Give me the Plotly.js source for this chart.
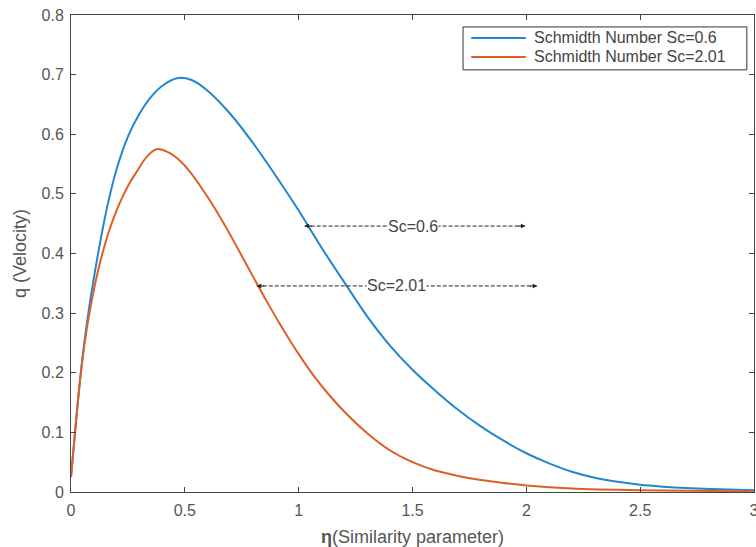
<!DOCTYPE html>
<html>
<head>
<meta charset="utf-8">
<script src="https://cdn.plot.ly/plotly-3.0.1.min.js"></script>
<style>html,body{margin:0;padding:0;background:#fff;}#chart{width:756px;height:547px;}</style>
</head>
<body>
<div id="chart"></div>
<script>
// Series: Schmidth Number Sc=0.6
const etaSc06 = [0, 0.02, 0.04, 0.06, 0.08, 0.1, 0.12, 0.14, 0.164, 0.2, 0.25, 0.3, 0.35, 0.4, 0.465, 0.53, 0.6, 0.7, 0.8, 0.9, 1.0, 1.1, 1.2, 1.3, 1.4, 1.5, 1.6, 1.7, 1.8, 1.9, 2.0, 2.1, 2.2, 2.3, 2.4, 2.5, 2.6, 2.7, 2.85, 3.0];
const qSc06   = [0.025, 0.11, 0.19, 0.255, 0.31, 0.358, 0.402, 0.443, 0.487, 0.541, 0.596, 0.634, 0.662, 0.681, 0.694, 0.691, 0.673, 0.634, 0.585, 0.53, 0.472, 0.41, 0.352, 0.295, 0.246, 0.205, 0.17, 0.138, 0.11, 0.086, 0.065, 0.048, 0.034, 0.024, 0.017, 0.012, 0.0088, 0.0065, 0.0045, 0.003];
// Series: Schmidth Number Sc=2.01
const etaSc201 = [0, 0.02, 0.04, 0.06, 0.08, 0.1, 0.12, 0.14, 0.17, 0.2, 0.23, 0.26, 0.29, 0.32, 0.35, 0.375, 0.4, 0.44, 0.48, 0.52, 0.57, 0.62, 0.67, 0.72, 0.77, 0.82, 0.87, 0.92, 0.97, 1.02, 1.07, 1.12, 1.2, 1.3, 1.4, 1.5, 1.6, 1.7, 1.8, 1.9, 2.0, 2.2, 2.5, 3.0];
const qSc201   = [0.025, 0.11, 0.188, 0.25, 0.298, 0.338, 0.373, 0.403, 0.441, 0.472, 0.498, 0.52, 0.538, 0.556, 0.569, 0.575, 0.574, 0.567, 0.555, 0.538, 0.512, 0.483, 0.451, 0.417, 0.382, 0.347, 0.313, 0.28, 0.249, 0.22, 0.193, 0.169, 0.135, 0.099, 0.07, 0.05, 0.036, 0.027, 0.02, 0.015, 0.011, 0.006, 0.003, 0.001];

const seriesNames = ['Schmidth Number Sc=0.6', 'Schmidth Number Sc=2.01'];
const xTicks = [0, 0.5, 1, 1.5, 2, 2.5, 3];
const yTicks = [0, 0.1, 0.2, 0.3, 0.4, 0.5, 0.6, 0.7, 0.8];

// Callout labels: [text, leftTipX, rightTipX, y, textX]
const callouts = [
  ['Sc=0.6', 1.026, 1.996, 0.446, 1.504],
  ['Sc=2.01', 0.816, 2.048, 0.3456, 1.428]
];

const BLUE = '#2187cf', ORANGE = '#dd5f26', AX = '#444444';
const COLORS = [BLUE, ORANGE];
const FONT = 'Liberation Sans, Arial, sans-serif';

const traces = [
  {x: etaSc06, y: qSc06, type: 'scatter', mode: 'lines', name: seriesNames[0],
   line: {color: BLUE, width: 2, shape: 'spline', smoothing: 0.8}},
  {x: etaSc201, y: qSc201, type: 'scatter', mode: 'lines', name: seriesNames[1],
   line: {color: ORANGE, width: 2, shape: 'spline', smoothing: 0.8}}
];

const shapes = [];
const annotations = [];
callouts.forEach(c => {
  const [txt, x0, x1, y, tx] = c;
  shapes.push({type: 'line', xref: 'x', yref: 'y', x0: x0, x1: x1, y0: y, y1: y,
               line: {color: '#222', width: 1, dash: '4px,2px'}});
  annotations.push({x: x0, y: y, xref: 'x', yref: 'y', ax: 9, ay: 0, text: '', showarrow: true,
                    arrowhead: 2, arrowsize: 0.9, arrowwidth: 1, arrowcolor: '#222'});
  annotations.push({x: x1, y: y, xref: 'x', yref: 'y', ax: -9, ay: 0, text: '', showarrow: true,
                    arrowhead: 2, arrowsize: 0.9, arrowwidth: 1, arrowcolor: '#222'});
  annotations.push({x: tx, y: y, xref: 'x', yref: 'y', text: txt, showarrow: false,
                    bgcolor: '#ffffff', borderpad: 0,
                    font: {family: FONT, size: 16, color: '#444'}});
});

// Legend box (MATLAB-style, drawn in paper coordinates)
const LEG = {x0: 0.574, x1: 0.9895, y0: 0.885, y1: 0.975, rows: [0.952, 0.912],
             lx0: 0.586, lx1: 0.666, tx: 0.675};
shapes.push({type: 'rect', xref: 'paper', yref: 'paper', x0: LEG.x0, x1: LEG.x1, y0: LEG.y0, y1: LEG.y1,
             line: {color: '#333', width: 1}, fillcolor: '#ffffff', layer: 'above'});
seriesNames.forEach((nm, i) => {
  shapes.push({type: 'line', xref: 'paper', yref: 'paper', x0: LEG.lx0, x1: LEG.lx1,
               y0: LEG.rows[i], y1: LEG.rows[i], line: {color: COLORS[i], width: 2}, layer: 'above'});
  annotations.push({xref: 'paper', yref: 'paper', x: LEG.tx, y: LEG.rows[i], xanchor: 'left', yanchor: 'middle',
                    text: nm, showarrow: false, font: {family: FONT, size: 16, color: '#444'}});
});

const axisCommon = {
  showgrid: false, zeroline: false, showline: true, linecolor: AX, linewidth: 1,
  mirror: 'ticks', ticks: 'inside', ticklen: 5, tickwidth: 1, tickcolor: AX,
  ticklabeloverflow: 'allow',
  tickfont: {family: FONT, size: 16, color: '#555'}
};

const layout = {
  width: 756, height: 547,
  margin: {l: 71, r: 2, t: 15, b: 55},
  paper_bgcolor: '#fff', plot_bgcolor: '#fff',
  showlegend: false,
  xaxis: Object.assign({}, axisCommon, {
    range: [0, 3], tickmode: 'array', tickvals: xTicks,
    ticktext: xTicks.map(String), ticklabelstandoff: 4,
    title: {text: '<b>η</b>(Similarity parameter)', standoff: 12,
            font: {family: FONT, size: 18, color: '#555'}}
  }),
  yaxis: Object.assign({}, axisCommon, {
    range: [0, 0.8], tickmode: 'array', tickvals: yTicks,
    ticktext: yTicks.map(String), ticklabelstandoff: 3,
    title: {text: 'q (Velocity)', standoff: 10,
            font: {family: FONT, size: 18, color: '#555'}}
  }),
  shapes: shapes,
  annotations: annotations
};

Plotly.newPlot('chart', traces, layout, {displayModeBar: false, staticPlot: true});
</script>
</body>
</html>
